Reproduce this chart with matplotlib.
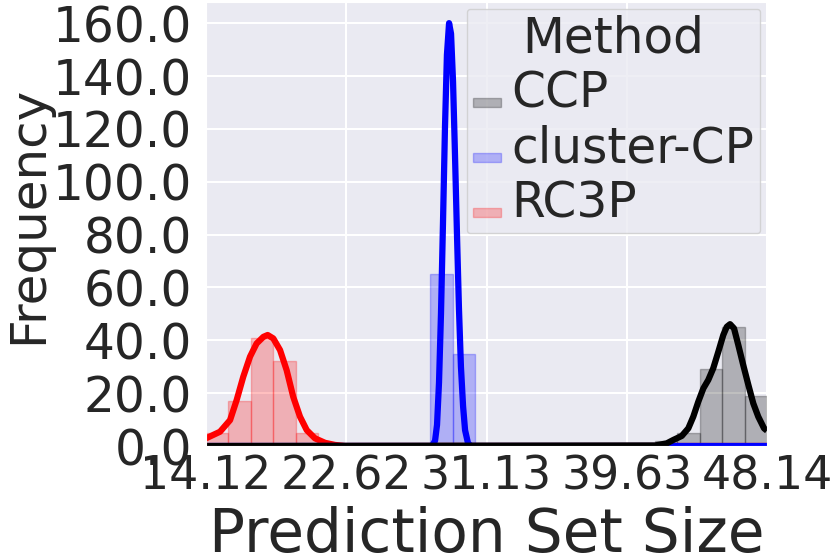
import numpy as np
import matplotlib
matplotlib.use("Agg")
import matplotlib.pyplot as plt
import seaborn as sns
from matplotlib.patches import Patch

# ---- data ----
methods = ["CCP", "cluster-CP", "RC3P"]
colors = ["black", "blue", "red"]

x_min, x_max = 14.12, 48.14
n_bins = 25

# histogram counts: first bin index + counts per bin
ccp_first_bin = 20
ccp_counts = [2, 5, 29, 45, 19]
cluster_first_bin = 10
cluster_counts = [65, 35]
rc3p_first_bin = 0
rc3p_counts = [5, 17, 41, 32, 5]

# kde curves (scaled to counts)
ccp_kde_x = [14.12, 41.35, 42.06, 42.46, 42.97, 43.37, 43.67, 43.97, 44.28, 44.58, 44.88,
             45.19, 45.49, 45.70, 45.90, 46.14, 46.40, 46.70, 47.01, 47.31, 47.61, 47.96, 48.14]
ccp_kde_y = [0.0, 0.2, 1.0, 2.3, 3.8, 6.7, 11.1, 16.7, 21.8, 25.0, 29.4,
             35.7, 42.0, 45.1, 46.1, 44.5, 38.2, 30.6, 23.1, 16.1, 11.1, 6.7, 5.8]

cluster_kde_x = [14.12, 27.83, 28.01, 28.13, 28.25, 28.37, 28.49, 28.61, 28.73, 28.86, 28.98,
                 29.10, 29.22, 29.34, 29.46, 29.58, 29.71, 29.83, 30.01, 30.19, 48.14]
cluster_kde_y = [0.0, 0.0, 2.0, 8.0, 24.0, 50.0, 84.0, 120.0, 148.0, 160.0, 156.0,
                 138.0, 110.0, 80.0, 52.0, 30.0, 15.0, 6.0, 1.0, 0.0, 0.0]

rc3p_kde_x = [14.12, 14.97, 15.58, 15.98, 16.38, 16.79, 17.19, 17.60, 17.86, 18.20, 18.61,
              19.01, 19.41, 19.82, 20.23, 20.73, 21.34, 21.94, 22.55, 48.14]
rc3p_kde_y = [2.9, 5.4, 9.8, 17.4, 26.2, 33.8, 38.8, 41.3, 42.0, 40.7, 36.3,
              28.7, 18.6, 11.1, 6.0, 2.9, 1.2, 0.4, 0.0, 0.0]

y_ticks = [0, 20, 40, 60, 80, 100, 120, 140, 160]
x_tick_labels = ["14.12", "22.62", "31.13", "39.63", "48.14"]

# ---- style ----
sns.set_style("darkgrid")
plt.rcParams["font.family"] = ["DejaVu Sans"]
plt.rcParams["text.color"] = "#262626"

fig, ax = plt.subplots(figsize=(8.3, 5.54), dpi=100)
fig.subplots_adjust(left=206 / 830, right=767 / 830, bottom=108 / 554, top=552 / 554)

edges = np.linspace(x_min, x_max, n_bins + 1)
bin_w = edges[1] - edges[0]

hist_data = [(ccp_first_bin, ccp_counts), (cluster_first_bin, cluster_counts),
             (rc3p_first_bin, rc3p_counts)]
for (first, counts), c in zip(hist_data, colors):
    left = edges[first:first + len(counts)]
    ax.bar(left, counts, width=bin_w, align="edge", facecolor=c, edgecolor=c,
           linewidth=1, alpha=0.25)

# kde lines: red first, black last (on top)
kdes = [(ccp_kde_x, ccp_kde_y), (cluster_kde_x, cluster_kde_y), (rc3p_kde_x, rc3p_kde_y)]
for (kx, ky), c in reversed(list(zip(kdes, colors))):
    ax.plot(kx, ky, color=c, lw=4.5, solid_joinstyle="round", solid_capstyle="butt")

ax.set_xlim(x_min, x_max)
ax.set_ylim(0, 168)
ax.set_xticks(np.linspace(x_min, x_max, 5))
ax.set_xticklabels(x_tick_labels)
ax.set_yticks(y_ticks)
ax.set_yticklabels([f"{v:.1f}" for v in y_ticks])
ax.tick_params(axis="both", colors="#262626", length=0)
ax.tick_params(axis="y", pad=10, labelsize=35)
ax.tick_params(axis="x", pad=6, labelsize=33)
ax.grid(True, color="white", linewidth=1.5)

ax.set_xlabel("Prediction Set Size", fontsize=43, color="#262626", labelpad=5)
ax.set_ylabel("Frequency", fontsize=36, color="#262626")
ax.yaxis.set_label_coords(-0.275, 0.52)

handles = [Patch(facecolor=c, edgecolor=c, alpha=0.25, linewidth=1) for c in colors]
leg = ax.legend(handles, methods, title="Method", loc="upper right", fontsize=10)
for t in leg.get_texts():
    t.set_fontsize(35)
leg.get_title().set_fontsize(35)

fig.savefig("out.png", dpi=100)
